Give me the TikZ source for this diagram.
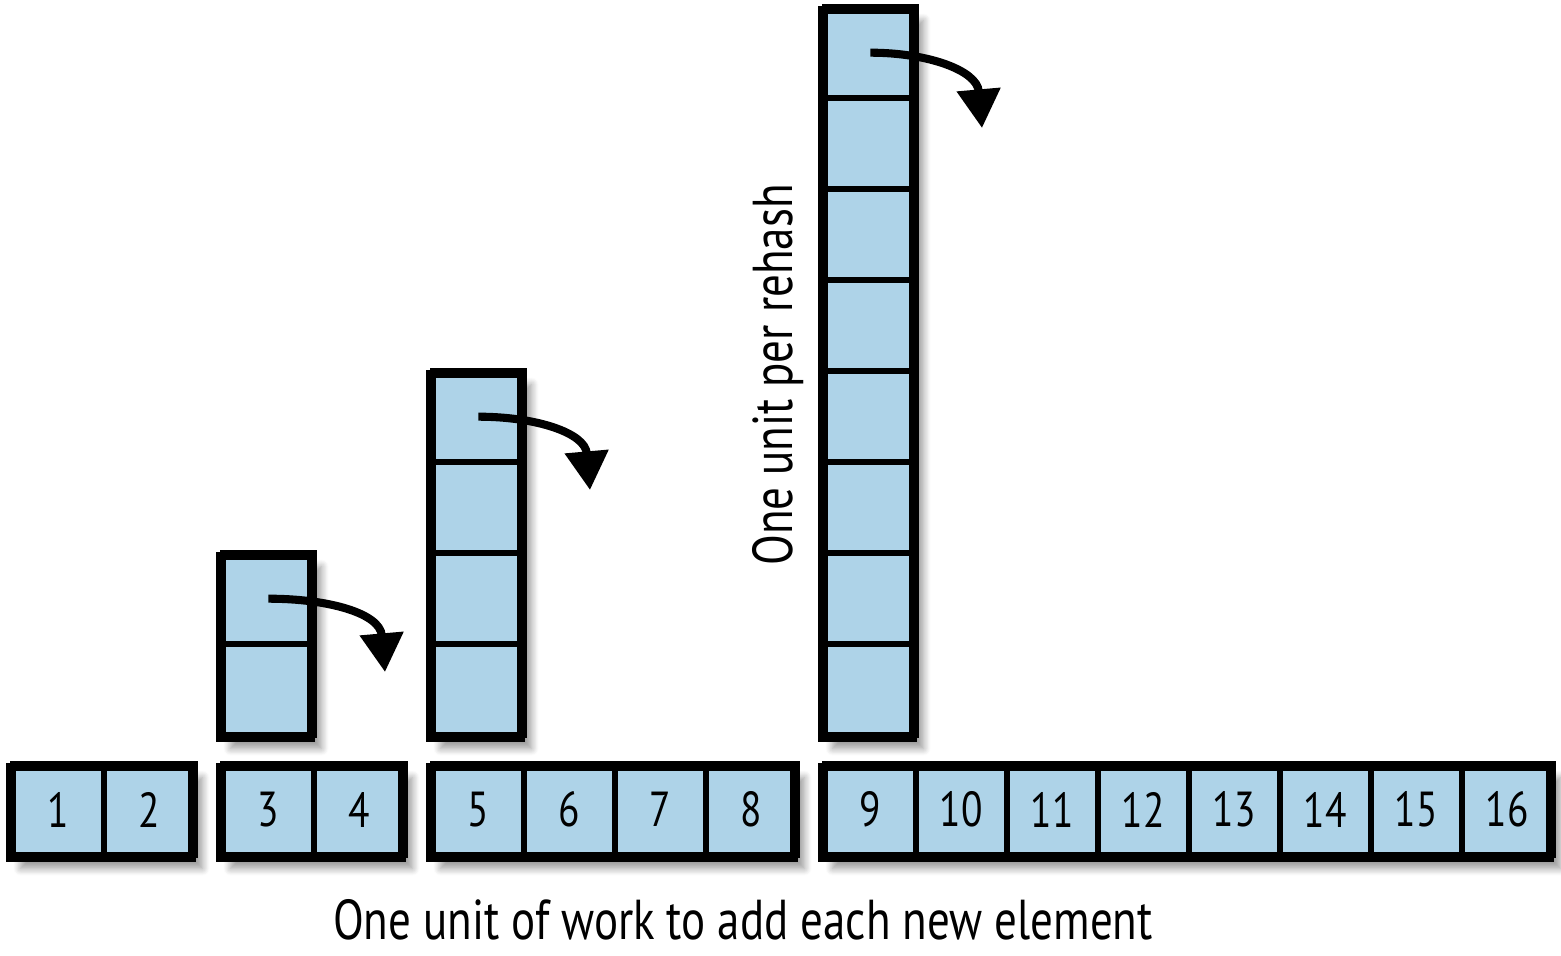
\documentclass[tikz,border=0pt]{standalone}
\usepackage{fontspec}
\setmainfont[FakeStretch=0.8]{PT Sans}
\usetikzlibrary{arrows.meta,shadows.blur}

\definecolor{cellblue}{RGB}{174,211,232}

\tikzset{
  group/.style={draw=black, line width=2.2pt, fill=cellblue,
    blur shadow={shadow xshift=3pt, shadow yshift=-3pt, shadow blur steps=8, shadow opacity=40}},
  cell/.style={draw=black, line width=1.6pt, minimum width=0.91cm, minimum height=0.91cm,
    inner sep=0pt, anchor=south west, font=\fontsize{14}{14}\selectfont},
  rehash/.style={line width=2.3pt, draw=black, fill opacity=1,
    -{Triangle[width=12pt,length=11pt,fill=black]}},
  note/.style={font=\fontsize{16}{16}\selectfont}
}

\begin{document}
\begin{tikzpicture}
\useasboundingbox (0,0) rectangle (15.61,9.55);

% the table, one group per size
\draw[group] (0.10,0.97) rectangle (1.92,1.88);
\draw[group] (2.20,0.97) rectangle (4.02,1.88);
\draw[group] (4.30,0.97) rectangle (7.94,1.88);
\draw[group] (8.22,0.97) rectangle (15.50,1.88);
\foreach \x/\n in {0.10/1,1.01/2,2.20/3,3.11/4,4.30/5,5.21/6,6.12/7,7.03/8,
                   8.22/9,9.13/10,10.04/11,10.95/12,11.86/13,12.77/14,13.68/15,14.59/16}
  \node[cell] (c\n) at (\x,0.97) {\n};

% rehash columns (top cell last so the arrow starts on it)
\draw[group] (2.20,2.17) rectangle (3.11,3.99);
\foreach \k in {1,2} \node[cell] (r3-\k) at (2.20,{2.17+(\k-1)*0.91}) {};
\draw[group] (4.30,2.17) rectangle (5.21,5.81);
\foreach \k in {1,...,4} \node[cell] (r5-\k) at (4.30,{2.17+(\k-1)*0.91}) {};
\draw[group] (8.22,2.17) rectangle (9.13,9.45);
\foreach \k in {1,...,8} \node[cell] (r9-\k) at (8.22,{2.17+(\k-1)*0.91}) {};

% arrows
\coordinate (t3) at (3.85,2.83);
\coordinate (t5) at (5.90,4.65);
\coordinate (t9) at (9.82,8.27);
\draw[rehash] (r3-2.center) to[out=0,in=95,looseness=1.1] (t3);
\draw[rehash] (r5-4.center) to[out=0,in=95,looseness=1.1] (t5);
\draw[rehash] (r9-8.center) to[out=0,in=95,looseness=1.1] (t9);

% labels
\node[note] (work) at (7.43,0.35) {One unit of work to add each new element};
\node[note,rotate=90] (perrehash) at (7.78,5.80) {One unit per rehash};
\end{tikzpicture}
\end{document}
